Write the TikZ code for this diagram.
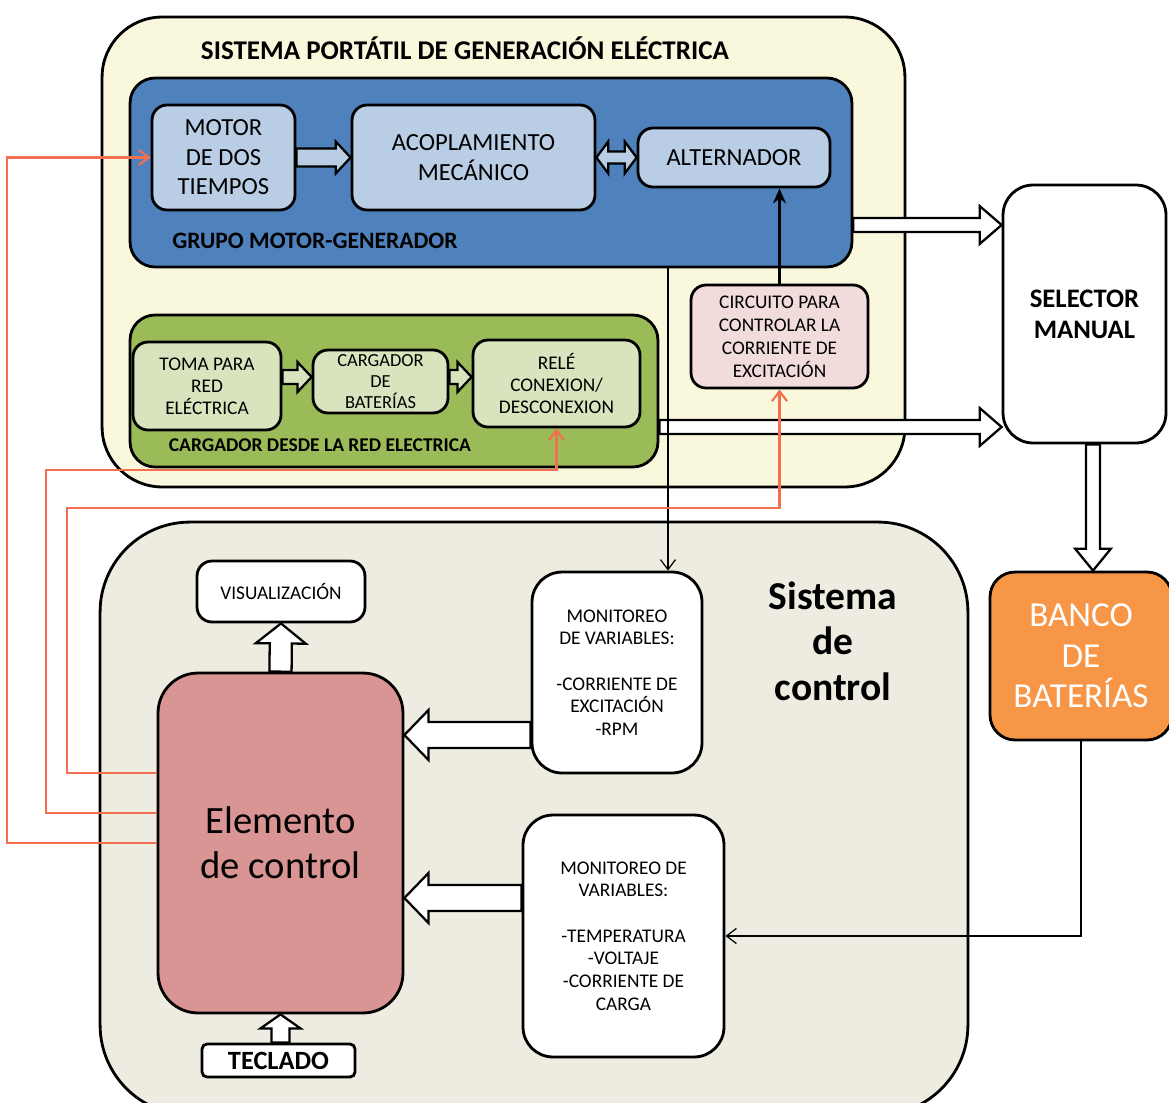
\documentclass[tikz,border=0pt]{standalone}
\usepackage{fontspec}
\setmainfont{Carlito}
\usetikzlibrary{positioning,calc,arrows.meta}
\definecolor{GenYellow}{RGB}{250,248,220}
\definecolor{GroupBlue}{RGB}{79,129,189}
\definecolor{PaleBlue}{RGB}{185,205,229}
\definecolor{GridGreen}{RGB}{155,187,89}
\definecolor{PaleGreen}{RGB}{215,228,189}
\definecolor{PalePink}{RGB}{242,220,219}
\definecolor{CtrlBeige}{RGB}{238,236,225}
\definecolor{CtrlRose}{RGB}{217,149,148}
\definecolor{BankOrange}{RGB}{247,150,70}
\definecolor{SignalOrange}{RGB}{242,112,80}
\tikzset{
  container/.style={draw=black,line width=1.6pt,inner sep=0pt},
  box/.style={draw=black,line width=1.6pt,rounded corners=0.3cm,align=center,inner sep=0pt},
  bluebox/.style={box,fill=PaleBlue,font=\fontsize{14}{16.8}\selectfont},
  greenbox/.style={box,fill=PaleGreen,font=\fontsize{11}{12.6}\selectfont},
  monbox/.style={box,fill=white,rounded corners=0.6cm,font=\fontsize{11}{12.9}\selectfont},
  grouplabel/.style={font=\bfseries\fontsize{13.4}{15}\selectfont,inner sep=0pt},
  blockline/.style={draw=black,line width=1.3pt,line join=miter},
  ctrl/.style={draw=SignalOrange,line width=1.2pt,-{Straight Barb[length=2mm,width=3mm]}},
  sense/.style={draw=black,line width=0.7pt,-{Straight Barb[length=2mm,width=3mm]}},
  drive/.style={draw=black,line width=1.6pt,-{Stealth[length=3mm,width=2.6mm]}}
}
% hollow block arrow: [fill]{from}{to}{shaft half}{head half}{head length}, sizes in pt
\newcommand{\blockarr}[6][white]{%
  \filldraw[blockline,fill=#1] let \p1=(#2), \p2=(#3), \n1={veclen(\x2-\x1,\y2-\y1)},
    \n2={(\x2-\x1)/\n1}, \n3={(\y2-\y1)/\n1}, \n4={\n1-#6} in
    ({\x1-#4*\n3},{\y1+#4*\n2}) -- ({\x1+\n4*\n2-#4*\n3},{\y1+\n4*\n3+#4*\n2})
    -- ({\x1+\n4*\n2-#5*\n3},{\y1+\n4*\n3+#5*\n2}) -- (\p2)
    -- ({\x1+\n4*\n2+#5*\n3},{\y1+\n4*\n3-#5*\n2}) -- ({\x1+\n4*\n2+#4*\n3},{\y1+\n4*\n3-#4*\n2})
    -- ({\x1+#4*\n3},{\y1-#4*\n2}) -- cycle;}
% same with a head at both ends
\newcommand{\dblarr}[6][white]{%
  \filldraw[blockline,fill=#1] let \p1=(#2), \p2=(#3), \n1={veclen(\x2-\x1,\y2-\y1)},
    \n2={(\x2-\x1)/\n1}, \n3={(\y2-\y1)/\n1}, \n4={\n1-#6}, \n5={#6} in
    (\p1) -- ({\x1+\n5*\n2-#5*\n3},{\y1+\n5*\n3+#5*\n2}) -- ({\x1+\n5*\n2-#4*\n3},{\y1+\n5*\n3+#4*\n2})
    -- ({\x1+\n4*\n2-#4*\n3},{\y1+\n4*\n3+#4*\n2})
    -- ({\x1+\n4*\n2-#5*\n3},{\y1+\n4*\n3+#5*\n2}) -- (\p2)
    -- ({\x1+\n4*\n2+#5*\n3},{\y1+\n4*\n3-#5*\n2}) -- ({\x1+\n4*\n2+#4*\n3},{\y1+\n4*\n3-#4*\n2})
    -- ({\x1+\n5*\n2+#4*\n3},{\y1+\n5*\n3-#4*\n2}) -- ({\x1+\n5*\n2+#5*\n3},{\y1+\n5*\n3-#5*\n2}) -- cycle;}
\begin{document}
\begin{tikzpicture}[x=0.02cm,y=-0.02cm]
  \useasboundingbox (0,0) rectangle (1169,1102);
  \node[container,fill=GenYellow,rounded corners=1.2cm,minimum width=16.06cm,minimum height=9.4cm] (gen) at (503.5,252) {};
  \node[container,fill=CtrlBeige,rounded corners=1.8cm,minimum width=17.36cm,minimum height=11.86cm] (control) at (534,818.5) {};
  \node[font=\bfseries\fontsize{15.4}{18}\selectfont,inner sep=0pt] (gentitle) at (465,48) {SISTEMA PORTÁTIL DE GENERACIÓN ELÉCTRICA};
  \node[container,fill=GroupBlue,rounded corners=0.5cm,minimum width=14.44cm,minimum height=3.78cm] (grupo) at (491,172.5) {};
  \node[grouplabel] (grupolbl) at (315,241) {GRUPO MOTOR-GENERADOR};
  \node[bluebox,minimum width=2.86cm,minimum height=2.1cm] (motor) at (223.5,157.5) {MOTOR\\DE DOS\\TIEMPOS};
  \node[bluebox,minimum width=4.86cm,minimum height=2.1cm] (acop) at (473.5,157.5) {ACOPLAMIENTO\\MECÁNICO};
  \node[bluebox,minimum width=3.84cm,minimum height=1.18cm] (alt) at (734,157.5) {ALTERNADOR};
  \node[container,fill=GridGreen,rounded corners=0.5cm,minimum width=10.56cm,minimum height=3.04cm] (red) at (394,391) {};
  \node[grouplabel,font=\bfseries\fontsize{11.1}{13}\selectfont] (redlbl) at (320,445) {CARGADOR DESDE LA RED ELECTRICA};
  \node[greenbox,minimum width=2.96cm,minimum height=1.76cm] (toma) at (207,386) {TOMA PARA\\RED\\ELÉCTRICA};
  \node[greenbox,font=\fontsize{10.5}{12}\selectfont,minimum width=2.7cm,minimum height=1.26cm] (carg) at (380.5,381.5) {CARGADOR\\DE\\BATERÍAS};
  \node[greenbox,minimum width=3.34cm,minimum height=1.74cm] (rele) at (556.5,383.5) {RELÉ\\CONEXION/\\DESCONEXION};
  \node[greenbox,fill=PalePink,font=\fontsize{11}{13.1}\selectfont,minimum width=3.54cm,minimum height=2.06cm] (circ) at (779.5,336.5) {CIRCUITO PARA\\CONTROLAR LA\\CORRIENTE DE\\EXCITACIÓN};
  \node[box,fill=white,rounded corners=0.6cm,font=\bfseries\fontsize{15.2}{17.6}\selectfont,minimum width=3.26cm,minimum height=5.16cm] (sel) at (1084.5,314) {SELECTOR\\MANUAL};
  \node[box,fill=BankOrange,text=white,rounded corners=0.5cm,font=\fontsize{20}{23}\selectfont,minimum width=3.64cm,minimum height=3.36cm] (banco) at (1081,656) {BANCO\\DE\\BATERÍAS};
  \node[font=\bfseries\fontsize{22.5}{25.8}\selectfont,align=center,inner sep=0pt] (ctrltitle) at (833,641) {Sistema\\de\\control};
  \node[box,fill=white,font=\fontsize{11}{13}\selectfont,minimum width=3.36cm,minimum height=1.22cm] (vis) at (281,591.5) {VISUALIZACIÓN};
  \node[box,fill=CtrlRose,rounded corners=0.8cm,font=\fontsize{22}{25.6}\selectfont,minimum width=4.9cm,minimum height=6.8cm] (elem) at (280.5,843) {Elemento\\de control};
  \node[monbox,minimum width=3.4cm,minimum height=4.02cm] (mon1) at (617,672.5) {MONITOREO\\DE VARIABLES:\\[12.9pt]-CORRIENTE DE\\EXCITACIÓN\\-RPM};
  \node[monbox,minimum width=4.02cm,minimum height=4.84cm] (mon2) at (623.5,936) {MONITOREO DE\\VARIABLES:\\[12.8pt]-TEMPERATURA\\-VOLTAJE\\-CORRIENTE DE\\CARGA};
  \node[box,fill=white,rounded corners=0.1cm,font=\bfseries\fontsize{15}{16}\selectfont,minimum width=3.06cm,minimum height=0.66cm] (tec) at (278.5,1060.5) {TECLADO};
  \blockarr[PaleBlue]{motor.east}{acop.west}{5.1}{9.1}{8.5}
  \dblarr[PaleBlue]{acop.east}{alt.west}{3.4}{9.1}{6.8}
  \blockarr[PaleGreen]{toma.east |- 0,377}{carg.west |- 0,377}{4}{8.5}{8}
  \blockarr[PaleGreen]{carg.east |- 0,377}{rele.west |- 0,377}{4}{8.5}{8}
  \blockarr{grupo.east |- 0,225}{sel.west |- 0,225}{4}{10.8}{12.5}
  \blockarr{red.east |- 0,427}{sel.west |- 0,427}{4}{10.8}{12.5}
  \blockarr{sel.south -| 1093,0}{banco.north -| 1093,0}{4}{10.2}{12.5}
  \blockarr{elem.north}{vis.south}{6.3}{14.2}{11.4}
  \blockarr{mon1.west |- 0,735}{elem.east |- 0,735}{7.4}{14.2}{13.7}
  \blockarr{mon2.west |- 0,898}{elem.east |- 0,898}{7.4}{14.2}{13.7}
  \blockarr{tec.north -| elem.south}{elem.south}{5.1}{11.4}{8}
  \draw[drive] (circ.north) -- (circ.north |- alt.south);
  \coordinate (tap) at ([xshift=3.54cm]grupo.south);
  \draw[sense] (tap) -- (tap |- mon1.north);
  \draw[sense] (banco.south) |- (mon2.east);
  \draw[ctrl] (elem.west) -- ++(-150,0) |- (motor.west);
  \draw[ctrl] ([yshift=0.6cm]elem.west) -- ++(-111,0) -- ++(0,-343) -| (rele.south);
  \draw[ctrl] ([yshift=1.4cm]elem.west) -- ++(-90,0) -- ++(0,-265) -| (circ.south);
\end{tikzpicture}
\end{document}
